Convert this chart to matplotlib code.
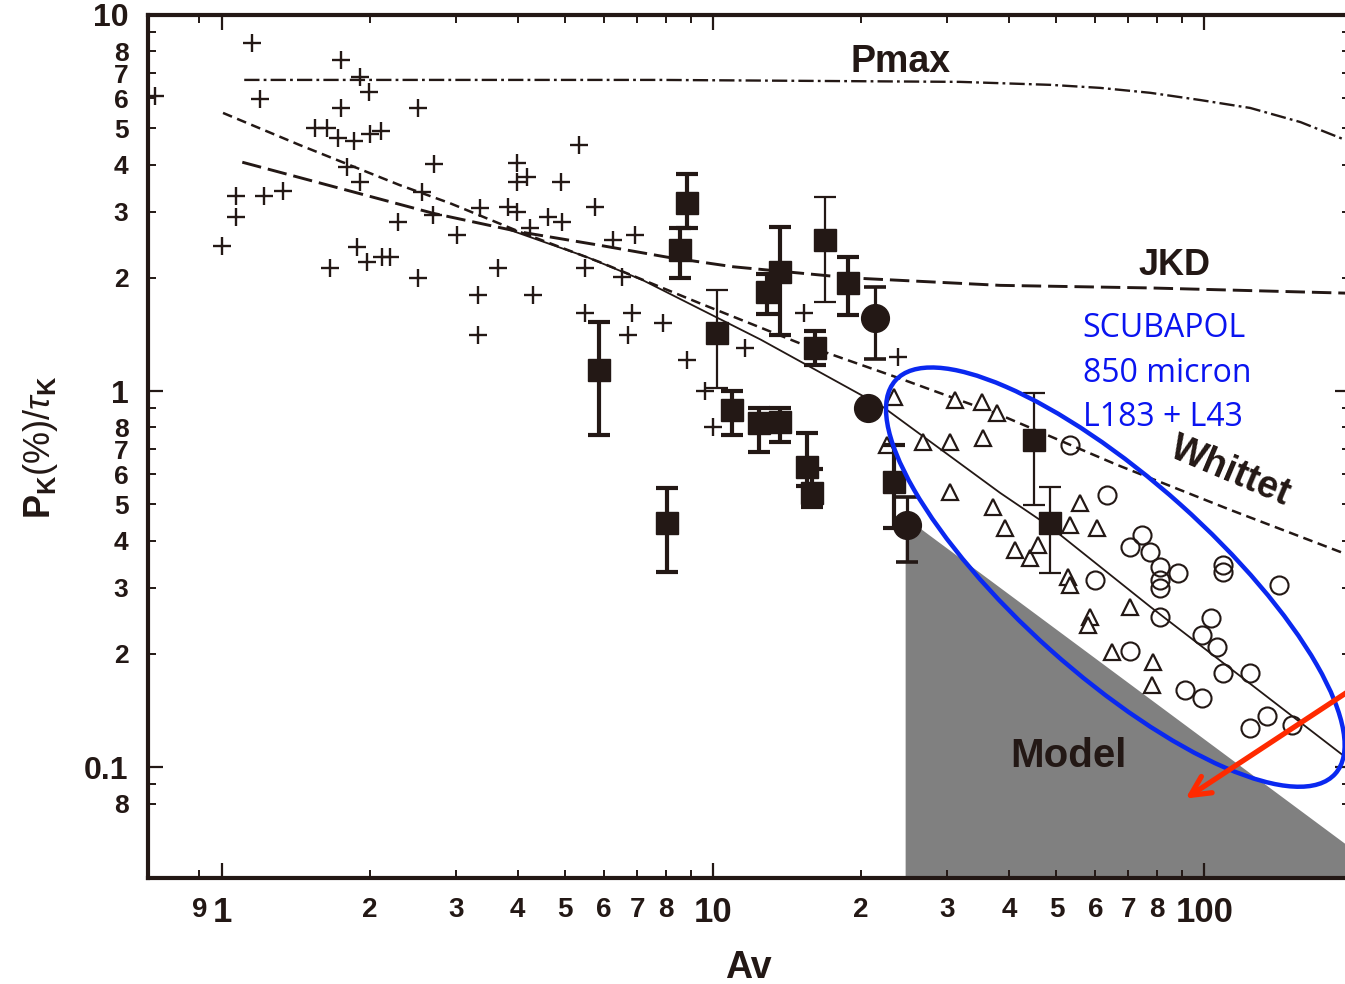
import numpy as np
import matplotlib
matplotlib.use('Agg')
import matplotlib.pyplot as plt
from matplotlib.patches import Ellipse
from matplotlib.transforms import ScaledTranslation
from matplotlib.ticker import FixedLocator, FixedFormatter

plt.rcParams['font.family'] = ['Liberation Sans', 'DejaVu Sans']
plt.rcParams['mathtext.fontset'] = 'custom'
plt.rcParams['mathtext.rm'] = 'Liberation Sans'
plt.rcParams['mathtext.it'] = 'Liberation Sans:italic'
plt.rcParams['mathtext.bf'] = 'Liberation Sans:bold'
plt.rcParams['lines.scale_dashes'] = False

INK = '#231815'

# field stars (crosses)
cross_av = [0.73, 1.15, 1.195, 1.0, 1.07, 1.07, 1.22, 1.33, 1.75, 1.91, 1.99, 1.75, 1.55, 1.64,
            1.72, 1.86, 2.0, 2.11, 2.51, 2.70, 1.80, 1.91, 2.55, 2.28, 2.69, 1.88, 1.97, 2.12,
            2.20, 1.66, 2.51, 3.99, 4.18, 3.99, 4.90, 5.33, 3.35, 3.82, 3.99, 4.61, 4.92, 5.75,
            3.01, 4.24, 6.26, 6.94, 3.65, 3.32, 4.30, 3.32, 5.49, 6.53, 5.49, 6.84, 6.71, 7.91,
            8.85, 11.6, 15.3, 9.63, 23.8, 10.0]
cross_p = [6.09, 8.43, 5.98, 2.43, 3.30, 2.90, 3.30, 3.40, 7.59, 6.84, 6.24, 5.66, 5.0, 5.0,
           4.71, 4.62, 4.83, 4.91, 5.66, 4.02, 3.94, 3.60, 3.38, 2.81, 2.94, 2.42, 2.20, 2.27,
           2.27, 2.12, 2.0, 4.04, 3.71, 3.60, 3.60, 4.51, 3.07, 3.09, 2.99, 2.90, 2.81, 3.09,
           2.60, 2.71, 2.52, 2.60, 2.12, 1.80, 1.80, 1.41, 2.12, 2.01, 1.61, 1.61, 1.41, 1.52,
           1.21, 1.30, 1.61, 1.0, 1.23, 0.80]

# filled squares, thick error bars
sq_av = [8.85, 8.57, 13.7, 12.9, 18.8, 16.1, 5.86, 8.06, 10.9, 12.4, 13.7, 15.5, 15.9, 23.3]
sq_p = [3.16, 2.37, 2.07, 1.83, 1.94, 1.30, 1.14, 0.446, 0.89, 0.82, 0.827, 0.628, 0.535, 0.573]
sq_lo = [2.71, 2.0, 1.41, 1.6, 1.59, 1.17, 0.764, 0.330, 0.764, 0.69, 0.73, 0.56, 0.491, 0.432]
sq_hi = [3.78, 2.71, 2.73, 2.05, 2.27, 1.44, 1.53, 0.552, 1.0, 0.90, 0.90, 0.773, 0.62, 0.718]

# filled squares, thin error bars
thin_av = [10.2, 16.9, 45.1, 48.6]
thin_p = [1.43, 2.52, 0.741, 0.446]
thin_lo = [1.02, 1.72, 0.497, 0.328]
thin_hi = [1.86, 3.28, 0.99, 0.556]

# filled circles
circ_av = [21.4, 20.7, 24.8]
circ_p = [1.56, 0.90, 0.44]
circ_lo = [1.22, 0.90, 0.351]
circ_hi = [1.89, 0.90, 0.523]

# open triangles
tri_av = [23.3, 31.1, 35.3, 37.9, 22.6, 26.8, 30.4, 35.5, 30.4, 37.2, 39.3, 41.2, 44.2, 45.9,
          55.9, 53.3, 60.5, 52.9, 53.3, 70.6, 58.6, 58.0, 65.0, 78.7, 78.4]
tri_p = [0.964, 0.946, 0.935, 0.874, 0.718, 0.731, 0.731, 0.75, 0.538, 0.491, 0.432, 0.378,
         0.36, 0.389, 0.504, 0.44, 0.432, 0.32, 0.305, 0.267, 0.251, 0.239, 0.202, 0.19, 0.165]

# open circles
oc_av = [53.3, 63.5, 74.8, 70.6, 77.6, 81.3, 88.5, 81.3, 81.3, 109, 109, 142, 60.0, 81.3, 103,
         99, 106, 70.6, 109, 124, 91.5, 99, 124, 134, 151]
oc_p = [0.718, 0.529, 0.414, 0.385, 0.373, 0.34, 0.328, 0.314, 0.299, 0.344, 0.33, 0.305,
        0.314, 0.251, 0.249, 0.224, 0.208, 0.204, 0.178, 0.178, 0.16, 0.153, 0.127, 0.137, 0.129]

# curves
pmax_av = [1.11, 7.8, 31.8, 48.6, 61.4, 77.6, 98.2, 124, 157, 198]
pmax_p = [6.72, 6.72, 6.64, 6.52, 6.40, 6.21, 5.94, 5.66, 5.19, 4.6]
jkd_av = [1.10, 2.69, 4.04, 5.89, 8.06, 11.0, 19.0, 38.4, 77.6, 198]
jkd_p = [4.06, 2.97, 2.65, 2.44, 2.27, 2.14, 2.0, 1.91, 1.88, 1.82]
whittet_av = [1.005, 1.44, 2.30, 2.91, 4.04, 5.89, 9.41, 15.0, 24.0, 38.4, 66.5, 113, 198]
whittet_p = [5.49, 4.51, 3.53, 3.16, 2.65, 2.20, 1.71, 1.34, 1.08, 0.864, 0.636, 0.483, 0.365]
fit_av = [3.86, 5.54, 7.20, 12.5, 22.2, 38.4, 48.6, 77.6, 198]
fit_p = [2.68, 2.27, 1.97, 1.37, 0.906, 0.536, 0.435, 0.267, 0.104]

# grey model region upper edge
model_av = [24.6, 198]
model_p = [0.462, 0.0612]

xlim = (0.707, 198)
ylim = (0.0507, 10)

x_major = [1, 10, 100]
x_major_lab = ['1', '10', '100']
x_minor = [0.9, 2, 3, 4, 5, 6, 7, 8, 9, 20, 30, 40, 50, 60, 70, 80, 90]
x_minor_lab = ['9', '2', '3', '4', '5', '6', '7', '8', '', '2', '3', '4', '5', '6', '7', '8', '']
y_major = [0.1, 1, 10]
y_major_lab = ['0.1', '1', '10']
y_minor = [0.08, 0.09, 0.2, 0.3, 0.4, 0.5, 0.6, 0.7, 0.8, 0.9, 2, 3, 4, 5, 6, 7, 8, 9]
y_minor_lab = ['8', '', '2', '3', '4', '5', '6', '7', '8', '', '2', '3', '4', '5', '6', '7', '8', '']

fig = plt.figure(figsize=(13.45, 9.84), dpi=100)
ax = fig.add_axes([148 / 1345, 1 - 878 / 984, (1350 - 148) / 1345, (878 - 15) / 984])
ax.set_xscale('log')
ax.set_yscale('log')
ax.set_xlim(*xlim)
ax.set_ylim(*ylim)

ax.fill_between(model_av, model_p, ylim[0], color='#808080', lw=0, zorder=1)

ax.plot(pmax_av, pmax_p, color=INK, lw=1.7, ls=(0, (11, 3, 2, 3)), zorder=2)
ax.plot(jkd_av, jkd_p, color=INK, lw=2.1, ls=(0, (14, 5)), zorder=2)
ax.plot(whittet_av, whittet_p, color=INK, lw=1.8, ls=(0, (7, 4)), zorder=2)
ax.plot(fit_av, fit_p, color=INK, lw=1.3, zorder=2)

ax.plot(cross_av, cross_p, ls='none', marker='+', ms=13, mew=1.7, color=INK, zorder=3)
ax.plot(tri_av, tri_p, ls='none', marker='^', ms=11, mew=1.6, mfc='white', mec=INK, zorder=3)
ax.plot(oc_av, oc_p, ls='none', marker='o', ms=13, mew=1.5, mfc='none', mec=INK, zorder=3)

sq_err = [np.array(sq_p) - np.array(sq_lo), np.array(sq_hi) - np.array(sq_p)]
ax.errorbar(sq_av, sq_p, yerr=sq_err, fmt='s', ms=16, color=INK, elinewidth=3, capsize=8,
            capthick=3, zorder=4)
thin_err = [np.array(thin_p) - np.array(thin_lo), np.array(thin_hi) - np.array(thin_p)]
ax.errorbar(thin_av, thin_p, yerr=thin_err, fmt='s', ms=16, color=INK, elinewidth=1.6, capsize=8,
            capthick=1.6, zorder=4)
circ_err = [np.array(circ_p) - np.array(circ_lo), np.array(circ_hi) - np.array(circ_p)]
ax.errorbar(circ_av, circ_p, yerr=circ_err, fmt='o', ms=20, color=INK, elinewidth=2.3, capsize=8,
            capthick=2.6, zorder=4)

# ticks
ax.xaxis.set_major_locator(FixedLocator(x_major))
ax.xaxis.set_major_formatter(FixedFormatter(x_major_lab))
ax.xaxis.set_minor_locator(FixedLocator(x_minor))
ax.xaxis.set_minor_formatter(FixedFormatter(x_minor_lab))
ax.yaxis.set_major_locator(FixedLocator(y_major))
ax.yaxis.set_major_formatter(FixedFormatter(y_major_lab))
ax.yaxis.set_minor_locator(FixedLocator(y_minor))
ax.yaxis.set_minor_formatter(FixedFormatter(y_minor_lab))
ax.tick_params(which='both', direction='in', top=True, right=True, color=INK, labelcolor=INK)
ax.tick_params(which='major', length=11, width=1.6)
ax.tick_params(which='minor', length=6, width=1.4)
ax.tick_params(axis='x', which='major', labelsize=25, pad=13)
ax.tick_params(axis='x', which='minor', labelsize=20, pad=14)
ax.tick_params(axis='y', which='major', labelsize=23, pad=14)
ax.tick_params(axis='y', which='minor', labelsize=19, pad=14)
for lab in ax.get_xticklabels(which='both') + ax.get_yticklabels(which='both'):
    lab.set_fontweight('bold')
for sp in ax.spines.values():
    sp.set_linewidth(3)
    sp.set_color(INK)

# curve names
ax.text(24.1, 7.05, 'Pmax', fontsize=27, fontweight='bold', color=INK, ha='center', va='baseline')
ax.text(86.9, 2.03, 'JKD', fontsize=26, fontweight='bold', color=INK, ha='center', va='baseline')
ax.text(113, 0.612, 'Whittet', fontsize=27, fontweight='bold', color=INK, ha='center', va='center',
        rotation=-23, rotation_mode='anchor')
ax.text(52.9, 0.1, 'Model', fontsize=29, fontweight='bold', color=INK, ha='center', va='baseline')

ax.text(56.5, 1.62, 'SCUBAPOL\n850 micron\nL183 + L43', fontsize=23, family='Open Sans',
        color='#0a14f0', ha='left', va='top', linespacing=1.45)

# highlight ellipse and arrow
trans = fig.dpi_scale_trans + ScaledTranslation(65.9, 0.32, ax.transData)
ax.add_patch(Ellipse((0, 0), width=5.9, height=1.95, angle=-41.8, transform=trans, fill=False,
                     ec='#0a28f0', lw=3.2, clip_on=False, zorder=6))
ax.annotate('', xy=(90.6, 0.0817), xytext=(198, 0.16),
            arrowprops=dict(arrowstyle='->,head_length=1.4,head_width=0.7', color='#ff2a00', lw=3.8),
            annotation_clip=False, zorder=6)

fig.text(748 / 1345, 1 - 968 / 984, 'Av', fontsize=27, fontweight='bold', color=INK,
         ha='center', va='center')
fig.text(40 / 1345, 1 - 447 / 984, r'$\mathbf{P_K}$(%)/$\tau_\mathbf{K}$', fontsize=26, color=INK,
         rotation=90, ha='center', va='center')

fig.savefig('out.png', dpi=100)
